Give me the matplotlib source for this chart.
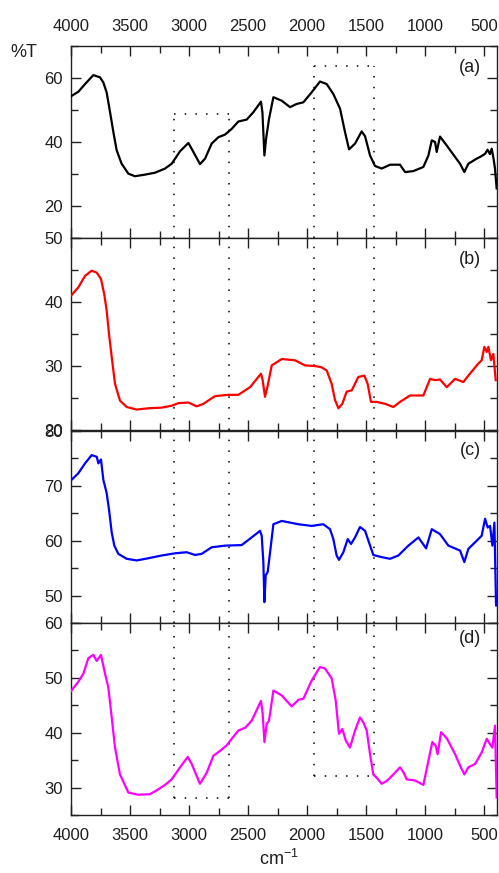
import matplotlib
matplotlib.use("Agg")
import matplotlib.pyplot as plt
from matplotlib.ticker import MultipleLocator

plt.rcParams['font.family'] = ['Liberation Sans', 'DejaVu Sans']

# FTIR transmittance spectra, wavenumber (cm^-1) vs %T
wn_a = [4000, 3938, 3881, 3811, 3754, 3726, 3698, 3669, 3641, 3613, 3571, 3514, 3458, 3373,
        3288, 3203, 3147, 3076, 3005, 2963, 2907, 2864, 2808, 2751, 2695, 2638, 2582, 2511,
        2455, 2390, 2378, 2361, 2347, 2322, 2285, 2214, 2144, 2087, 2031, 1961, 1890, 1833,
        1777, 1720, 1678, 1644, 1593, 1537, 1508, 1466, 1424, 1367, 1296, 1212, 1169, 1099,
        1014, 971, 943, 915, 901, 873, 816, 745, 703, 667, 633, 562, 530, 491, 470, 450,
        435, 420, 407, 393]
t_a = [54.3, 55.7, 58.1, 60.9, 60.2, 58.6, 55.5, 49.3, 43.1, 37.4, 33.2, 30.1, 29.3, 29.8,
       30.4, 31.7, 33.2, 37.1, 39.7, 36.9, 33.1, 34.8, 39.5, 41.5, 42.3, 44.1, 46.4, 47.0,
       49.3, 52.6, 49.3, 35.8, 41.0, 47.2, 54.0, 52.9, 50.9, 51.9, 52.4, 55.5, 58.9, 58.1,
       55.0, 50.4, 43.1, 37.7, 39.5, 43.3, 41.8, 35.8, 32.5, 31.7, 32.9, 32.9, 30.6, 30.9,
       32.2, 35.8, 40.5, 40.0, 36.9, 41.7, 38.9, 35.3, 33.2, 30.6, 33.2, 34.8, 35.4, 36.3,
       37.6, 36.2, 37.9, 35.0, 31.7, 25.5]

wn_b = [4000, 3938, 3881, 3825, 3782, 3746, 3718, 3698, 3678, 3655, 3627, 3585, 3528, 3443,
        3345, 3232, 3147, 3090, 3005, 2935, 2878, 2780, 2666, 2582, 2483, 2390, 2376, 2356,
        2336, 2299, 2214, 2102, 2017, 1932, 1876, 1833, 1791, 1763, 1734, 1701, 1664, 1621,
        1565, 1514, 1486, 1458, 1410, 1339, 1268, 1212, 1127, 1014, 957, 915, 873, 816, 745,
        675, 633, 548, 520, 497, 477, 463, 441, 421, 401]
t_b = [41.0, 42.3, 44.1, 44.9, 44.6, 43.6, 41.2, 38.7, 35.0, 31.4, 27.2, 24.6, 23.6, 23.2,
       23.4, 23.5, 23.8, 24.2, 24.3, 23.7, 24.1, 25.3, 25.5, 25.5, 26.7, 28.8, 27.8, 25.2,
       26.7, 30.1, 31.1, 30.9, 30.1, 30.0, 29.8, 29.3, 27.2, 24.7, 23.4, 24.1, 26.0, 26.2,
       28.3, 28.5, 27.2, 24.4, 24.4, 24.1, 23.6, 24.4, 25.4, 25.4, 28.0, 27.8, 27.9, 26.7,
       28.0, 27.5, 28.5, 30.4, 30.9, 33.0, 32.2, 33.0, 30.9, 31.9, 27.8]

wn_c = [4000, 3938, 3881, 3825, 3782, 3768, 3746, 3726, 3698, 3678, 3655, 3633, 3599, 3528,
        3443, 3345, 3232, 3119, 3020, 2949, 2893, 2808, 2695, 2554, 2469, 2398, 2384, 2370,
        2361, 2350, 2333, 2313, 2285, 2214, 2073, 1961, 1862, 1805, 1777, 1749, 1729, 1692,
        1655, 1627, 1593, 1551, 1508, 1475, 1438, 1367, 1296, 1226, 1141, 1056, 991, 943,
        873, 802, 703, 667, 633, 562, 520, 491, 469, 449, 429, 412, 398]
t_c = [71.0, 72.3, 74.1, 75.6, 75.3, 74.1, 74.8, 71.1, 68.7, 65.7, 61.5, 59.1, 57.6, 56.7,
       56.4, 56.8, 57.3, 57.7, 57.9, 57.4, 57.6, 58.8, 59.1, 59.2, 60.6, 61.8, 60.9, 56.1,
       48.8, 53.7, 54.3, 57.9, 63.0, 63.6, 63.0, 62.7, 63.0, 62.1, 60.3, 57.3, 56.5, 57.9,
       60.3, 59.4, 60.6, 62.5, 61.8, 59.7, 57.4, 57.0, 56.7, 57.3, 59.1, 60.6, 58.6, 62.1,
       61.2, 59.1, 58.2, 56.1, 58.5, 60.0, 60.9, 64.0, 62.4, 62.7, 59.1, 63.3, 48.2]

wn_d = [4000, 3938, 3895, 3853, 3811, 3782, 3746, 3712, 3684, 3655, 3627, 3585, 3514, 3429,
        3331, 3274, 3203, 3147, 3076, 3011, 2977, 2907, 2850, 2794, 2737, 2681, 2638, 2582,
        2525, 2469, 2390, 2376, 2361, 2342, 2322, 2285, 2214, 2130, 2073, 2031, 1961, 1890,
        1847, 1791, 1757, 1729, 1701, 1672, 1636, 1593, 1551, 1523, 1494, 1466, 1438, 1410,
        1367, 1325, 1268, 1212, 1183, 1155, 1085, 1014, 971, 938, 909, 893, 864, 816, 745,
        703, 667, 633, 576, 520, 477, 449, 429, 407, 393]
t_d = [47.6, 49.3, 50.8, 53.6, 54.2, 53.1, 54.2, 50.8, 48.3, 42.8, 37.3, 32.4, 29.1, 28.7,
       28.8, 29.5, 30.5, 31.5, 33.7, 35.6, 34.3, 30.7, 32.7, 35.8, 36.7, 37.7, 38.9, 40.4,
       40.9, 42.2, 45.8, 43.5, 38.3, 41.6, 42.2, 47.7, 46.8, 44.8, 46.0, 46.2, 49.5, 52.0,
       51.7, 49.9, 45.9, 39.8, 40.7, 38.6, 37.3, 40.4, 42.8, 41.9, 40.4, 36.1, 32.4, 31.8,
       30.7, 31.2, 32.4, 33.7, 32.8, 31.5, 31.3, 30.5, 34.9, 38.3, 37.6, 36.1, 40.1, 39.0,
       36.1, 34.0, 32.4, 33.7, 34.3, 36.4, 38.9, 37.9, 37.3, 41.3, 28.2]

series = [wn_a, wn_b, wn_c, wn_d]
values = [t_a, t_b, t_c, t_d]
colors = ['black', 'red', 'blue', 'magenta']
panel_tags = ['(a)', '(b)', '(c)', '(d)']
ylims = [(10, 70), (20, 50), (45, 80), (25, 60)]
ymajor = [20, 10, 10, 10]
yminor = [10, 5, 5, 5]
tag_y = [0.89, 0.89, 0.90, 0.92]

# highlighted spectral windows (cm^-1) and box edges (%T in top / bottom panel)
box_wn = [(3130, 2661), (1941, 1429)]
box_top = [48.8, 63.8]
box_bottom = [28.15, 32.07]

fig = plt.figure(figsize=(4.99, 8.73), dpi=100)
left, width = 0.1423, 0.8537
h = 0.2199
bottoms = [0.7274, 0.5074, 0.2864, 0.0664]
txt = '#1e1e1e'
dot = dict(color='black', lw=1.1, linestyle=(0, (1, 6)))

for i in range(4):
    ax = fig.add_axes([left, bottoms[i], width, h])
    ax.plot(series[i], values[i], color=colors[i], lw=1.6, zorder=3)
    ax.set_xlim(4000, 390)
    ax.set_ylim(*ylims[i])
    ax.xaxis.set_major_locator(MultipleLocator(500))
    ax.xaxis.set_minor_locator(MultipleLocator(250))
    ax.yaxis.set_major_locator(MultipleLocator(ymajor[i]))
    ax.yaxis.set_minor_locator(MultipleLocator(yminor[i]))
    ax.tick_params(which='both', direction='in', top=True, bottom=True, left=True, right=True,
                   width=1.0, colors='#222222', labelcolor=txt, labelsize=12)
    ax.tick_params(which='major', length=7)
    ax.tick_params(which='minor', length=5)
    ax.tick_params(axis='y', pad=6)
    ax.tick_params(axis='x', labelbottom=(i == 3), labeltop=(i == 0), pad=9)
    if i == 2:
        ax.set_yticks([50, 60, 70, 80])
    for sp in ax.spines.values():
        sp.set_linewidth(1.0)
        sp.set_color('#222222')
    ax.text(0.937, tag_y[i], panel_tags[i], transform=ax.transAxes, ha='center',
            va='center', fontsize=13, color=txt)

    lo, hi = ylims[i]
    for k, (x1, x2) in enumerate(box_wn):
        y0 = box_bottom[k] if i == 3 else lo
        y1 = box_top[k] if i == 0 else hi
        ax.plot([x1, x1], [y0, y1], **dot)
        ax.plot([x2, x2], [y0, y1], **dot)
        if i == 0:
            ax.plot([x1, x2], [box_top[k], box_top[k]], **dot)
        if i == 3:
            ax.plot([x1, x2], [box_bottom[k], box_bottom[k]], **dot)

fig.text(0.048, 0.940, '%T', ha='center', va='center', fontsize=13, color=txt)
fig.text(0.56, 0.016, r'cm$^{\mathregular{-1}}$', ha='center', va='center', fontsize=13,
         color=txt)

fig.savefig('out.png', dpi=100)
